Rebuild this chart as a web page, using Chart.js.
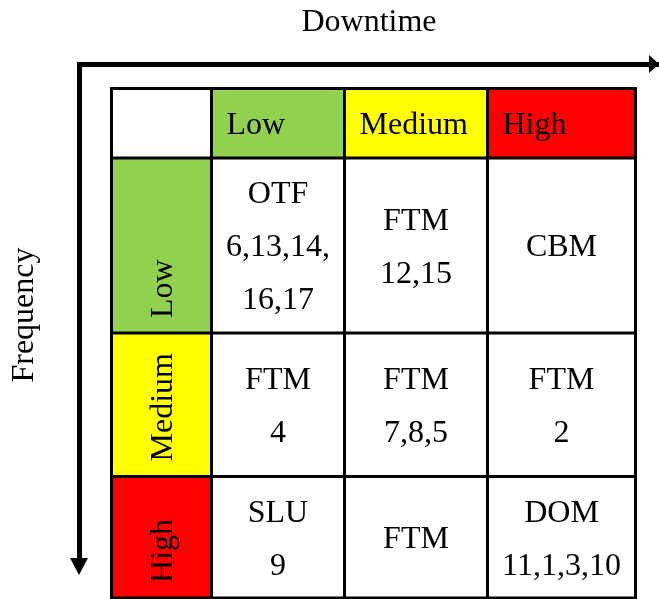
<!DOCTYPE html>
<html>
<head>
<meta charset="utf-8">
<script src="https://cdn.jsdelivr.net/npm/chart.js@4/dist/chart.umd.min.js"></script>
<style>
  body { margin: 0; background: #fff; }
</style>
</head>
<body>
<canvas id="chart" width="659" height="599"></canvas>
<script>
// data
const downtimeLevels = ['Low', 'Medium', 'High'];
const frequencyLevels = ['Low', 'Medium', 'High'];
const strategies = [
  ['OTF', 'FTM', 'CBM'],
  ['FTM', 'FTM', 'FTM'],
  ['SLU', 'FTM', 'DOM']
];
const components = [
  [['6,13,14,', '16,17'], ['12,15'], []],
  [['4'], ['7,8,5'], ['2']],
  [['9'], [], ['11,1,3,10']]
];

// table layout (scale units = table pixels)
const colWidths = [100, 133, 143, 148];
const rowHeights = [69.5, 175, 143.5, 121.5];
const levelColors = ['#92D050', '#FFFF00', '#FF0000'];
const FONT = "'Liberation Serif', 'Times New Roman', serif";
const FS = 32;
const LINE_H = 53;

function edges(sizes) {
  const out = [0];
  sizes.forEach(s => out.push(out[out.length - 1] + s));
  return out;
}
const xEdges = edges(colWidths);
const yEdges = edges(rowHeights);

const tablePlugin = {
  id: 'riskTable',
  afterDraw(chart) {
    const ctx = chart.ctx;
    const xs = chart.scales.x, ys = chart.scales.y;
    const px = v => xs.getPixelForValue(v);
    const py = v => ys.getPixelForValue(v);

    ctx.save();
    // cell fills
    for (let r = 0; r < 4; r++) {
      for (let c = 0; c < 4; c++) {
        let fill = '#fff';
        if (r === 0 && c > 0) fill = levelColors[c - 1];
        if (c === 0 && r > 0) fill = levelColors[r - 1];
        ctx.fillStyle = fill;
        ctx.fillRect(px(xEdges[c]), py(yEdges[r]), px(xEdges[c + 1]) - px(xEdges[c]), py(yEdges[r + 1]) - py(yEdges[r]));
      }
    }
    // grid lines
    ctx.strokeStyle = '#000';
    ctx.lineWidth = 3;
    ctx.beginPath();
    xEdges.forEach(v => {
      ctx.moveTo(px(v), py(yEdges[0]) - 1.5);
      ctx.lineTo(px(v), py(yEdges[4]) + 1.5);
    });
    yEdges.forEach(v => {
      ctx.moveTo(px(xEdges[0]) - 1.5, py(v));
      ctx.lineTo(px(xEdges[4]) + 1.5, py(v));
    });
    ctx.stroke();

    ctx.fillStyle = '#000';
    ctx.font = FS + 'px ' + FONT;
    ctx.textBaseline = 'alphabetic';
    const base = FS * 0.34;

    // column header (downtime)
    ctx.textAlign = 'left';
    downtimeLevels.forEach((lab, i) => {
      const yc = (py(yEdges[0]) + py(yEdges[1])) / 2;
      ctx.fillText(lab, px(xEdges[i + 1]) + 15, yc + base);
    });
    // row header (frequency), rotated
    frequencyLevels.forEach((lab, i) => {
      const xc = (px(xEdges[0]) + px(xEdges[1])) / 2;
      ctx.save();
      ctx.translate(xc, py(yEdges[i + 2]) - 15);
      ctx.rotate(-Math.PI / 2);
      ctx.fillText(lab, 0, base);
      ctx.restore();
    });
    // body cells
    ctx.textAlign = 'center';
    strategies.forEach((row, r) => {
      row.forEach((s, c) => {
        const lines = [s].concat(components[r][c]);
        const xc = (px(xEdges[c + 1]) + px(xEdges[c + 2])) / 2;
        const yc = (py(yEdges[r + 1]) + py(yEdges[r + 2])) / 2;
        lines.forEach((t, k) => {
          const y = yc + (k - (lines.length - 1) / 2) * LINE_H;
          ctx.fillText(t, xc, y + base);
        });
      });
    });

    // arrow heads
    const a = chart.chartArea;
    ctx.beginPath();
    ctx.moveTo(a.right, a.top);
    ctx.lineTo(a.right - 10, a.top - 9);
    ctx.lineTo(a.right - 10, a.top + 9);
    ctx.closePath();
    ctx.moveTo(a.left, a.bottom + 9);
    ctx.lineTo(a.left - 9, a.bottom - 8);
    ctx.lineTo(a.left + 9, a.bottom - 8);
    ctx.closePath();
    ctx.fill();
    ctx.restore();
  }
};

const axisTitleFont = { family: FONT, size: FS };

new Chart(document.getElementById('chart'), {
  type: 'scatter',
  data: { datasets: [] },
  options: {
    responsive: false,
    animation: false,
    devicePixelRatio: 1,
    layout: { padding: { left: 0, top: 0, right: 0, bottom: 33 } },
    plugins: { legend: { display: false }, tooltip: { enabled: false } },
    scales: {
      x: {
        type: 'linear',
        position: 'top',
        min: -32.5,
        max: 547.5,
        grid: { display: false, drawTicks: false },
        ticks: { display: false },
        border: { display: true, width: 5, color: '#000' },
        title: { display: true, text: 'Downtime', color: '#000', font: axisTitleFont, padding: { top: 3, bottom: 22.6 } }
      },
      y: {
        type: 'linear',
        position: 'left',
        reverse: true,
        min: -24.5,
        max: 477.5,
        grid: { display: false, drawTicks: false },
        ticks: { display: false },
        border: { display: true, width: 5, color: '#000' },
        title: { display: true, text: 'Frequency', color: '#000', font: axisTitleFont, padding: { top: 5, bottom: 35.6 } }
      }
    }
  },
  plugins: [tablePlugin]
});
</script>
</body>
</html>
